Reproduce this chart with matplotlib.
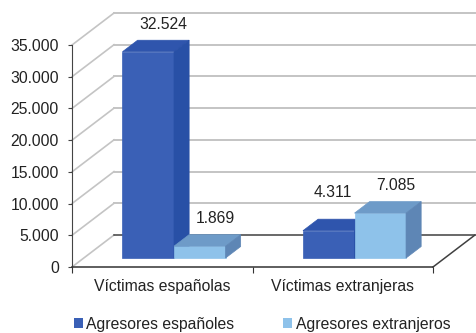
import matplotlib
matplotlib.use("Agg")
import matplotlib.pyplot as plt
from matplotlib.patches import Polygon, Patch

# Datos
categorias = ["Víctimas españolas", "Víctimas extranjeras"]
series = ["Agresores españoles", "Agresores extranjeros"]
agresores_espanoles = [32524, 4311]
agresores_extranjeros = [1869, 7085]
ticks_y = [0, 5000, 10000, 15000, 20000, 25000, 30000, 35000]
etiquetas_y = ["0", "5.000", "10.000", "15.000", "20.000", "25.000", "30.000", "35.000"]

plt.rcParams["font.family"] = ["Liberation Sans", "DejaVu Sans"]
FS = 11.3


def miles(v):
    # separador de miles con punto
    return f"{v:,}".replace(",", ".")


# colores (frente, arriba, lado)
col_esp = ("#3a60b6", "#2f55ad", "#2850a6")
col_ext = ("#8ec2ea", "#6e9bc8", "#5e86b5")

W, H = 476, 333
fig = plt.figure(figsize=(W / 100, H / 100), dpi=100)

# geometría en pixeles del gráfico original (pared frontal y profundidad)
x0_px, x1_px = 72, 433
y0_px, ytop_px = 267, 45
dx_px, dy_px = 42, 32
ymax = 35000
px_cat = (x1_px - x0_px) / len(categorias)
px_val = (y0_px - ytop_px) / ymax
DX = dx_px / px_cat
DY = dy_px / px_val

ax = fig.add_axes([x0_px / W, (H - y0_px) / H,
                   (x1_px + dx_px - x0_px) / W, (y0_px - ytop_px + dy_px) / H])
ax.set_xlim(0, len(categorias) + DX)
ax.set_ylim(0, ymax + DY)
ax.patch.set_alpha(0)

# paredes: líneas de cuadrícula
for v in ticks_y:
    ax.plot([0, DX], [v, v + DY], color="#c4c4c4", lw=1.2, clip_on=False, zorder=1)
    if v == 0:
        ax.plot([DX, len(categorias) + DX], [DY, DY], color="#404040", lw=1.1,
                clip_on=False, zorder=1)
    else:
        ax.plot([DX, len(categorias) + DX], [v + DY, v + DY], color="#c4c4c4", lw=1.4,
                clip_on=False, zorder=1)
ax.plot([len(categorias), len(categorias) + DX], [0, DY], color="#404040", lw=1.1,
        clip_on=False, zorder=1)

# barras 3D
ancho_grupo = 0.571
ancho = ancho_grupo / 2
d0, d1 = 0.28, 0.64


def barra(x, h, cols):
    fx, fy = d0 * DX, d0 * DY
    bx, by = d1 * DX, d1 * DY
    frente = [(x + fx, fy), (x + ancho + fx, fy), (x + ancho + fx, h + fy), (x + fx, h + fy)]
    arriba = [(x + fx, h + fy), (x + ancho + fx, h + fy), (x + ancho + bx, h + by), (x + bx, h + by)]
    lado = [(x + ancho + fx, fy), (x + ancho + bx, by), (x + ancho + bx, h + by), (x + ancho + fx, h + fy)]
    for pts, c in zip([frente, arriba, lado], cols):
        ax.add_patch(Polygon(pts, closed=True, facecolor=c, edgecolor=c, lw=0.5,
                             clip_on=False, zorder=3))


# desplazamiento de etiquetas (px); Excel sube la de 4.311
desp_etiqueta = {(1, 0): (-11, 27)}

for i in range(len(categorias)):
    valores = [agresores_espanoles[i], agresores_extranjeros[i]]
    for j, (val, cols) in enumerate(zip(valores, [col_esp, col_ext])):
        x = i + 0.5 - ancho_grupo / 2 + j * ancho
        barra(x, val, cols)
        ax.annotate(miles(val), (x + ancho / 2 + d1 * DX, val + d1 * DY),
                    xytext=desp_etiqueta.get((i, j), (0, 16)), textcoords="offset pixels",
                    ha="center", va="center", fontsize=FS, color="#222222", zorder=5)

# ejes
for s in ["top", "right"]:
    ax.spines[s].set_visible(False)
ax.spines["left"].set_bounds(0, ymax)
ax.spines["bottom"].set_bounds(0, len(categorias))
ax.spines["left"].set_color("#444444")
ax.spines["bottom"].set_color("#333333")
ax.spines["bottom"].set_linewidth(1.1)

ax.set_yticks(ticks_y)
ax.set_yticklabels(etiquetas_y, fontsize=FS, color="#222222")
ax.tick_params(axis="y", length=3, pad=6.5, color="#444444")

ax.set_xticks(range(len(categorias) + 1))
ax.set_xticklabels([""] * (len(categorias) + 1))
ax.set_xticks([i + 0.5 for i in range(len(categorias))], minor=True)
ax.set_xticklabels(categorias, minor=True, fontsize=FS, color="#222222")
ax.tick_params(axis="x", which="major", length=4, color="#333333")
ax.tick_params(axis="x", which="minor", length=0, pad=9)

# leyenda
handles = [Patch(facecolor=col_esp[0]), Patch(facecolor=col_ext[0])]
fig.legend(handles, series, loc="center", bbox_to_anchor=(262 / W, (H - 324) / H), ncol=2,
           frameon=False, fontsize=FS, handlelength=0.6, handleheight=0.6,
           handletextpad=0.2, columnspacing=3.1, borderpad=0, labelcolor="#222222")

fig.savefig("out.png", dpi=100)
